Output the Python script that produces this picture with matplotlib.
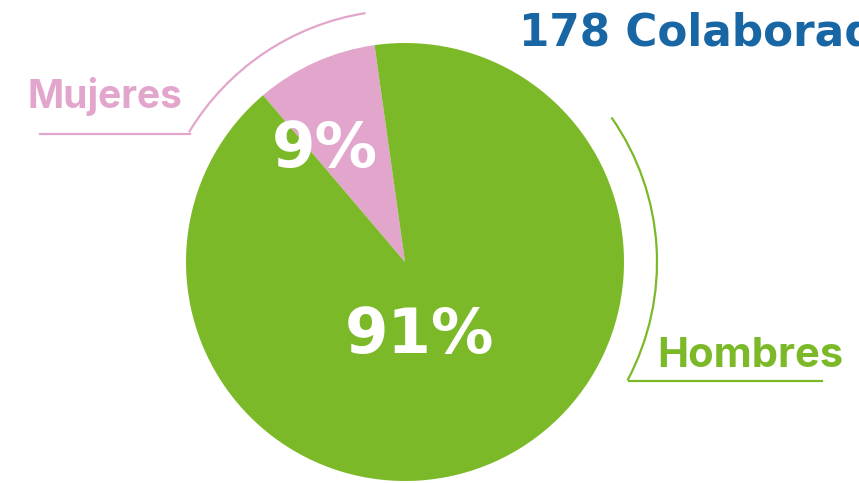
import matplotlib.pyplot as plt
from matplotlib.patches import Arc

# data
labels = ['Mujeres', 'Hombres']
shares = [9, 91]
pct_text = ['9%', '91%']
colors = ['#e2a6cc', '#7cb928']
title = '178 Colaboradores'

W, H = 859, 483
fig = plt.figure(figsize=(W / 100, H / 100), dpi=100)
ax = fig.add_axes([0, 0, 1, 1])

cx, cy, r = 405, H - 262, 219
ax.pie(shares, colors=colors, startangle=98, counterclock=True,
       center=(cx, cy), radius=r, wedgeprops=dict(linewidth=0))
ax.set_xlim(0, W)
ax.set_ylim(0, H)
ax.set_aspect('equal')
ax.axis('off')

heavy = 'DejaVu Sans'
font = ['Inter', 'Liberation Sans']
# percent labels inside the slices
ax.text(325, H - 167, pct_text[0], color='white', fontsize=45, fontweight='bold',
        family=heavy, ha='center', va='baseline')
ax.text(419, H - 353, pct_text[1], color='white', fontsize=45, fontweight='bold',
        family=heavy, ha='center', va='baseline')

# bracket lines round the pie
ax.add_patch(Arc((cx, cy), 2 * 252, 2 * 252, theta1=99, theta2=149,
                 color=colors[0], linewidth=1.6))
ax.plot([40, 190], [H - 134, H - 134], color=colors[0], linewidth=1.6)
ax.add_patch(Arc((cx, cy), 2 * 252, 2 * 252, theta1=-28, theta2=35,
                 color=colors[1], linewidth=1.6))
ax.plot([629, 822], [H - 381, H - 381], color=colors[1], linewidth=1.6)

# category labels
ax.text(27, H - 108, labels[0], color=colors[0], fontsize=28, fontweight='bold',
        family=font, ha='left', va='baseline')
ax.text(657, H - 367, labels[1], color=colors[1], fontsize=30, fontweight='bold',
        family=font, ha='left', va='baseline')

# title (cut at the right edge)
ax.text(519, H - 45, title, color='#1866a3', fontsize=31.5, fontweight='bold',
        family=heavy, ha='left', va='baseline')

fig.savefig('out.png', dpi=100)
